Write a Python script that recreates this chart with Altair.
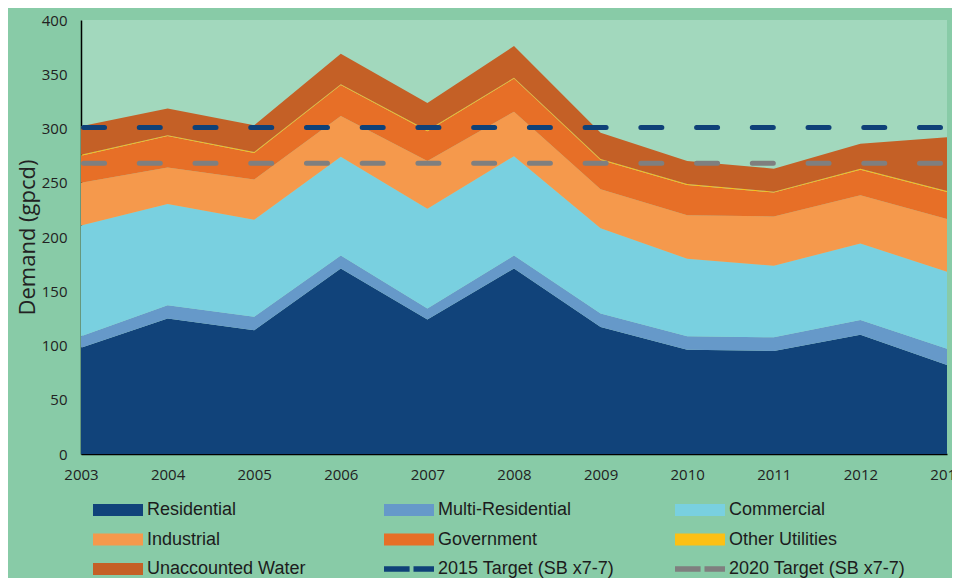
import altair as alt
import pandas as pd

years = [2003, 2004, 2005, 2006, 2007, 2008, 2009, 2010, 2011, 2012, 2013]
residential = [98.0, 125.0, 114.0, 171.0, 124.0, 171.0, 117.0, 96.0, 95.0, 110.0, 82.0]
multi_residential = [10.5, 12.0, 12.5, 12.0, 10.0, 12.0, 12.5, 12.5, 12.5, 13.5, 15.0]
commercial = [102.0, 93.5, 89.5, 91.0, 92.0, 91.5, 78.5, 71.5, 66.0, 70.5, 71.0]
industrial = [39.5, 33.5, 37.0, 37.5, 44.0, 41.0, 36.0, 40.0, 45.5, 44.5, 48.5]
government = [25.0, 29.0, 24.5, 28.5, 27.5, 30.5, 27.0, 28.0, 22.0, 23.5, 25.0]
other_utilities = [0.8, 0.8, 0.8, 0.8, 0.8, 0.8, 0.8, 0.8, 0.8, 0.8, 0.8]
unaccounted = [26.2, 24.7, 24.7, 28.2, 25.2, 29.2, 24.2, 21.2, 21.2, 23.2, 49.7]

categories = ["Residential", "Multi-Residential", "Commercial", "Industrial",
              "Government", "Other Utilities", "Unaccounted Water"]
series = [residential, multi_residential, commercial, industrial,
          government, other_utilities, unaccounted]
target_names = ["2015 Target (SB x7-7)", "2020 Target (SB x7-7)"]
target_values = [301, 268]
colors = ["#11437a", "#6699c9", "#79d0e0", "#f5994c", "#e76f27", "#fcc015",
          "#c46026", "#0f4178", "#7f7f7f"]

rows = []
for i, (cat, vals) in enumerate(zip(categories, series)):
    for yr, v in zip(years, vals):
        rows.append({"Year": yr, "Category": cat, "Demand": v, "order": i})
df = pd.DataFrame(rows)
tdf = pd.DataFrame({"Category": target_names, "Demand": target_values})

domain = categories + target_names
color_scale = alt.Scale(domain=domain, range=colors)

RECT = "M-4.1667,-1H4.1667V1H-4.1667Z"
DASH = "M-4.1667,-0.45H0.1V0.45H-4.1667Z M0.75,-0.45H4.1667V0.45H0.75Z"
shape_scale = alt.Scale(domain=domain, range=[RECT] * len(categories) + [DASH] * len(target_names))

legend = alt.Legend(
    title=None, orient="none", legendX=9, legendY=481, columns=3,
    direction="horizontal", symbolSize=144, symbolOffset=19,
    labelOffset=20, labelFont="Liberation Sans", labelFontSize=18,
    labelColor="#1c1c1c", columnPadding=57, rowPadding=11.5, gridAlign="all",
    padding=0, symbolStrokeWidth=0, symbolOpacity=1, labelLimit=400,
)

x_axis = alt.Axis(values=years, format="d", title=None, ticks=False, grid=False,
                  labelFlush=False, labelOverlap=False, labelPadding=13,
                  labelFont="Open Sans", labelFontSize=15, labelColor="#222222",
                  domainColor="#000000", domainWidth=1.5)
y_axis = alt.Axis(values=list(range(0, 401, 50)), title="Demand (gpcd)", ticks=False,
                  grid=False, labelPadding=14, labelFont="Open Sans", labelFontSize=15,
                  labelColor="#222222", titleFont="Open Sans", titleFontSize=22,
                  titleFontWeight="normal", titleColor="#222222", titlePadding=2,
                  domainColor="#000000", domainWidth=1.5)

y_scale = alt.Scale(domain=[0, 400], nice=False)

legend_layer = alt.Chart(pd.DataFrame({"Category": domain})).mark_point(
    filled=True, opacity=0, size=144).encode(
    color=alt.Color("Category:N", scale=color_scale, legend=legend),
    shape=alt.Shape("Category:N", scale=shape_scale, legend=legend),
)

areas = alt.Chart(df).mark_area(opacity=1).encode(
    x=alt.X("Year:Q", scale=alt.Scale(domain=[2003, 2013], nice=False, zero=False), axis=x_axis),
    y=alt.Y("Demand:Q", stack="zero", scale=y_scale, axis=y_axis),
    color=alt.Color("Category:N", scale=color_scale, legend=None),
    order=alt.Order("order:Q", sort="ascending"),
)

targets = alt.Chart(tdf).mark_rule(strokeWidth=5, strokeDash=[21, 34.73],
                                   strokeCap="round", strokeDashOffset=49.23).encode(
    y=alt.Y("Demand:Q", scale=y_scale, axis=y_axis),
    color=alt.Color("Category:N", scale=color_scale, legend=None),
)

chart = alt.layer(legend_layer, areas, targets).properties(
    width=866, height=434,
    autosize=alt.AutoSizeParams(type="none"),
    padding={"left": 73, "top": 12, "right": 5, "bottom": 124},
    background="#88cba7",
).configure_view(fill="#a2d8bd", strokeWidth=0)

chart.save("out.html", embed_options={"renderer": "svg", "actions": False})
